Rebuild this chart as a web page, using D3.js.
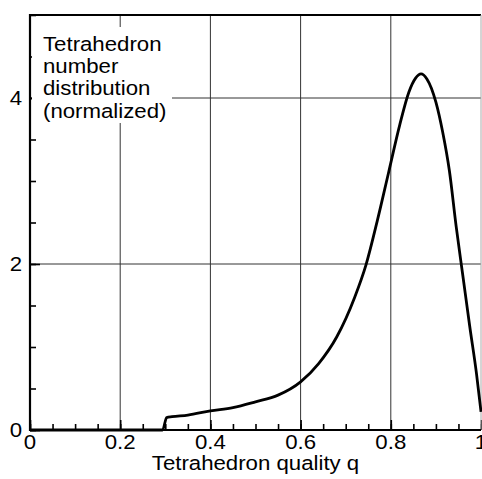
<!DOCTYPE html>
<html>
<head>
<meta charset="utf-8">
<script src="https://cdn.jsdelivr.net/npm/d3@7"></script>
<style>
  body { margin: 0; background: #fff; }
  text { font-family: "Liberation Sans", Arial, sans-serif; fill: #000; }
</style>
</head>
<body>
<div class="container"><div></div></div>
<script>
// data
var qualityQ = [0, 0.291, 0.294, 0.303, 0.315, 0.35, 0.40, 0.45, 0.50, 0.55, 0.60, 0.64, 0.68, 0.72, 0.745, 0.77, 0.795, 0.82, 0.84, 0.855, 0.867, 0.88, 0.90, 0.915, 0.93, 0.945, 0.96, 0.975, 0.99, 1.0];
var numberDist = [0, 0, 0, 0.15, 0.16, 0.18, 0.23, 0.27, 0.34, 0.42, 0.58, 0.80, 1.12, 1.60, 1.99, 2.52, 3.10, 3.68, 4.07, 4.24, 4.29, 4.23, 3.95, 3.59, 3.12, 2.45, 1.85, 1.25, 0.68, 0.22];
var xTickLabels = [0, 0.2, 0.4, 0.6, 0.8, 1];
var yTickLabels = [0, 2, 4];
var xMinorTicks = d3.range(0, 1.0001, 0.05);
var yMinorTicks = d3.range(0, 5.0001, 0.5);
var noteLines = ["Tetrahedron", "number", "distribution", "(normalized)"];
var xTitle = "Tetrahedron quality q";

var svgWidth = 482;
var svgHeight = 479;
var margin = { top: 15, right: 1, bottom: 49, left: 30 };
var width = svgWidth - margin.left - margin.right;
var height = svgHeight - margin.top - margin.bottom;
var stretch = 1.14;
var fontSize = 19.5;
var svg, chartGroup;

function PlaceSVG() {
    svg = d3.select("body").select(".container").select("div")
      .append("svg")
      .attr("width", svgWidth)
      .attr("height", svgHeight);

    chartGroup = svg.append("g")
      .attr("transform", `translate(${margin.left}, ${margin.top})`);
}

function CreatePlot() {
    var data = qualityQ.map((q, i) => ({ q: q, v: numberDist[i] }));

    var xLinearScale = d3.scaleLinear().domain([0, 1]).range([0, width]);
    var yLinearScale = d3.scaleLinear().domain([0, 5]).range([height, 0]);

    // grid lines
    chartGroup.selectAll(".vgrid")
      .data(xTickLabels.filter(d => d > 0 && d < 1))
      .enter().append("line")
      .attr("x1", d => xLinearScale(d)).attr("x2", d => xLinearScale(d))
      .attr("y1", 0).attr("y2", height)
      .attr("stroke", "#333").attr("stroke-width", 1);

    chartGroup.selectAll(".hgrid")
      .data(yTickLabels.filter(d => d > 0))
      .enter().append("line")
      .attr("x1", 0).attr("x2", width)
      .attr("y1", d => yLinearScale(d)).attr("y2", d => yLinearScale(d))
      .attr("stroke", "#333").attr("stroke-width", 1);

    // minor + major ticks pointing inward
    var xAxisMinor = d3.axisTop(xLinearScale).tickValues(xMinorTicks).tickSize(6).tickFormat("");
    var xAxisMajor = d3.axisTop(xLinearScale).tickValues(xTickLabels).tickSize(10).tickFormat("");
    var yAxisMinor = d3.axisRight(yLinearScale).tickValues(yMinorTicks).tickSize(6).tickFormat("");
    var yAxisMajor = d3.axisRight(yLinearScale).tickValues(yTickLabels).tickSize(10).tickFormat("");

    [xAxisMinor, xAxisMajor].forEach(function(ax) {
      chartGroup.append("g")
        .attr("transform", `translate(0, ${height})`)
        .call(ax)
        .call(g => g.select(".domain").remove())
        .selectAll("line").attr("stroke", "#000").attr("stroke-width", 1.6);
    });
    [yAxisMinor, yAxisMajor].forEach(function(ax) {
      chartGroup.append("g")
        .call(ax)
        .call(g => g.select(".domain").remove())
        .selectAll("line").attr("stroke", "#000").attr("stroke-width", 1.6);
    });

    // note box over the grid
    var note = chartGroup.append("g");
    note.append("rect")
      .attr("x", 2).attr("y", 12).attr("width", 140).attr("height", 96)
      .attr("fill", "#fff");
    note.selectAll("text")
      .data(noteLines)
      .enter().append("text")
      .attr("transform", (d, i) => `translate(13, ${36 + i * 22.2}) scale(${stretch},1)`)
      .attr("font-size", fontSize)
      .text(d => d);

    // frame
    chartGroup.append("line")
      .attr("x1", 0).attr("x2", width).attr("y1", 0).attr("y2", 0)
      .attr("stroke", "#000").attr("stroke-width", 2);
    chartGroup.append("line")
      .attr("x1", width).attr("x2", width).attr("y1", 0).attr("y2", height)
      .attr("stroke", "#aaa").attr("stroke-width", 1);
    chartGroup.append("line")
      .attr("x1", 0).attr("x2", 0).attr("y1", -1).attr("y2", height + 1)
      .attr("stroke", "#000").attr("stroke-width", 2.2);
    chartGroup.append("line")
      .attr("x1", -1).attr("x2", width).attr("y1", height).attr("y2", height)
      .attr("stroke", "#000").attr("stroke-width", 2.2);

    // curve
    var line = d3.line()
      .x(d => xLinearScale(d.q))
      .y(d => yLinearScale(d.v))
      .curve(d3.curveMonotoneX);
    chartGroup.append("path")
      .datum(data)
      .attr("d", line)
      .attr("fill", "none")
      .attr("stroke", "#000")
      .attr("stroke-width", 2.8)
      .attr("stroke-linejoin", "round");

    // tick labels
    chartGroup.selectAll(".xlab")
      .data(xTickLabels)
      .enter().append("text")
      .attr("transform", d => `translate(${xLinearScale(d)}, ${height + 19}) scale(${stretch},1)`)
      .attr("text-anchor", "middle")
      .attr("font-size", fontSize)
      .text(d => d);

    chartGroup.selectAll(".ylab")
      .data(yTickLabels)
      .enter().append("text")
      .attr("transform", d => `translate(-8, ${yLinearScale(d) + 7}) scale(${stretch},1)`)
      .attr("text-anchor", "end")
      .attr("font-size", fontSize)
      .text(d => d);

    // axis title
    chartGroup.append("text")
      .attr("transform", `translate(${width / 2}, ${height + 40}) scale(${stretch},1)`)
      .attr("text-anchor", "middle")
      .attr("font-size", fontSize)
      .text(xTitle);
}

PlaceSVG();
CreatePlot();
</script>
</body>
</html>
